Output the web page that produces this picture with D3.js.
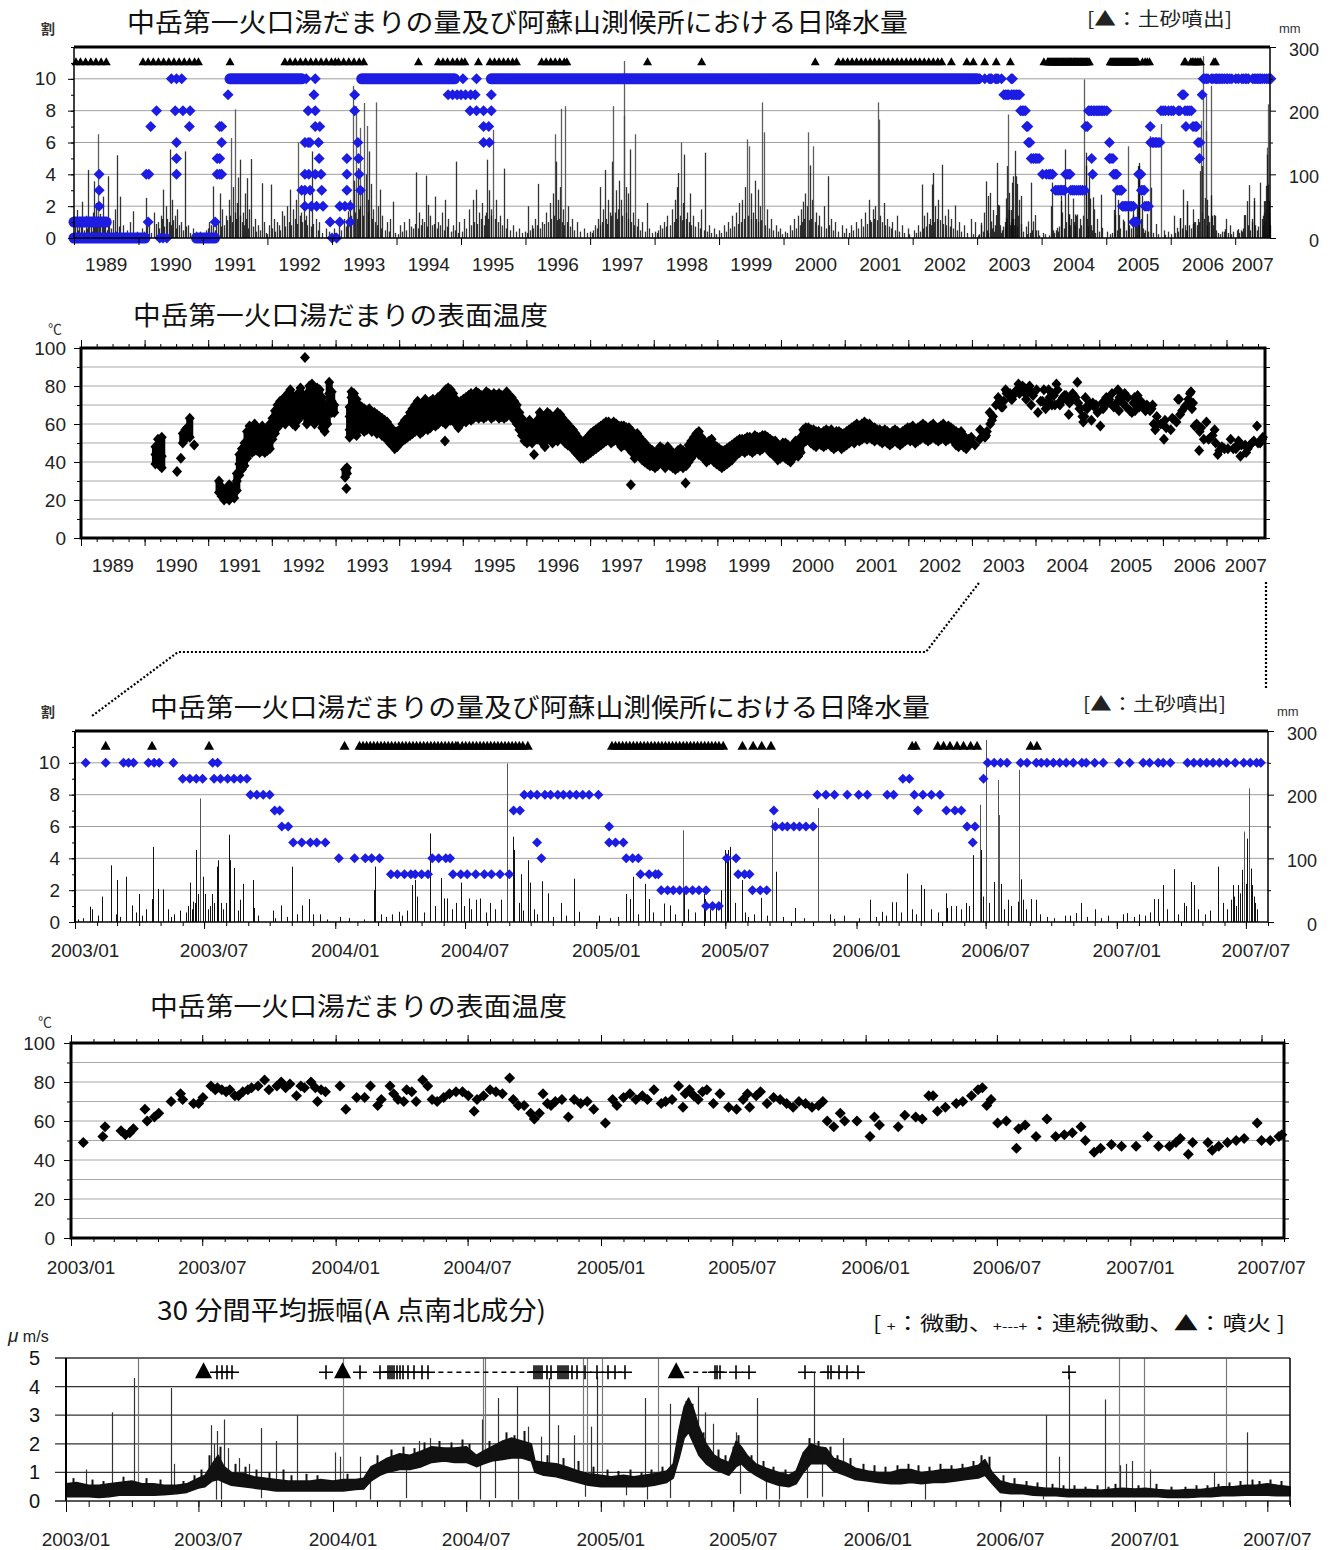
<!doctype html>
<html>

<head>
    <meta charset="utf-8">
    <title>中岳第一火口 湯だまり・表面温度・振幅</title>
    <script type="text/javascript" src="https://d3js.org/d3.v7.min.js"></script>
    <style type="text/css">
        html,
        body {
            margin: 0;
            padding: 0;
            background: #fff;
        }

        svg text {
            font-family: "Liberation Sans", Arial, sans-serif;
        }

        svg text.jp {
            font-family: "Noto Sans CJK JP", sans-serif;
        }
    </style>
</head>

<body>
    <svg id="chart" width="1329" height="1550"></svg>

    <script type="text/javascript">
        // ---------- tick labels ----------
        var levelTicks = [0, 2, 4, 6, 8, 10]
        var rainTicks = [0, 100, 200, 300]
        var tempTicks = [0, 20, 40, 60, 80, 100]
        var ampTicks = [0, 1, 2, 3, 4, 5]
        var yearLabels = ["1989", "1990", "1991", "1992", "1993", "1994", "1995", "1996", "1997", "1998",
            "1999", "2000", "2001", "2002", "2003", "2004", "2005", "2006", "2007"]

        // ---------- water level (割), 1989-2002, decimal years ----------
        // continuous stretches of the same level: [from, to, level]
        var levelRuns1989 = [
            [1989.0, 1989.5, 1], [1989.0, 1990.1, 0], [1990.9, 1991.18, 0],
            [1991.42, 1992.53, 10], [1993.46, 1994.9, 10], [1995.47, 2003.0, 10]
        ]
        var levelPoints1989 = [
            [1989.39, 2], [1989.39, 3], [1989.39, 4],
            [1990.12, 4], [1990.16, 4], [1990.15, 1], [1990.19, 7], [1990.28, 8],
            [1990.33, 0], [1990.38, 0], [1990.44, 0],
            [1990.51, 10], [1990.59, 10], [1990.67, 10], [1990.57, 8], [1990.69, 8], [1990.8, 8],
            [1990.59, 6], [1990.59, 5], [1990.59, 4], [1990.79, 7],
            [1991.19, 1], [1991.22, 4], [1991.22, 5], [1991.26, 4], [1991.26, 5], [1991.26, 7],
            [1991.29, 4], [1991.29, 6], [1991.29, 7], [1991.39, 9],
            [1992.53, 3], [1992.58, 2], [1992.58, 3], [1992.58, 4], [1992.58, 6], [1992.6, 10], [1992.63, 8],
            [1992.63, 6], [1992.64, 4], [1992.66, 3], [1992.68, 2], [1992.66, 6],
            [1992.72, 9], [1992.74, 10], [1992.74, 8], [1992.74, 7], [1992.74, 4], [1992.76, 2], [1992.79, 6],
            [1992.8, 5], [1992.81, 7], [1992.83, 4], [1992.84, 3], [1992.86, 2],
            [1992.97, 1], [1993.0, 0], [1993.07, 0], [1993.12, 1], [1993.12, 2], [1993.2, 2],
            [1993.23, 5], [1993.23, 4], [1993.23, 3], [1993.28, 1], [1993.28, 2],
            [1993.35, 9], [1993.35, 8], [1993.4, 6], [1993.41, 5], [1993.42, 4], [1993.44, 3],
            [1994.8, 9], [1994.87, 9], [1994.94, 9], [1995.0, 9], [1995.07, 9], [1995.15, 9], [1995.22, 9],
            [1995.03, 10], [1995.24, 10], [1995.47, 9],
            [1995.14, 8], [1995.24, 8], [1995.35, 8], [1995.47, 8],
            [1995.35, 7], [1995.43, 7], [1995.35, 6], [1995.44, 6]
        ]

        // ---------- water level (割), 2003-2007 ----------
        var levelPoints = [
            ["2003-01-16", 10], ["2003-02-13", 10], ["2003-03-10", 10], ["2003-03-17", 10], ["2003-03-24", 10],
            ["2003-04-14", 10], ["2003-04-22", 10], ["2003-04-29", 10], ["2003-05-19", 10],
            ["2003-06-01", 9], ["2003-06-11", 9], ["2003-06-20", 9], ["2003-06-29", 9], ["2003-07-13", 10], ["2003-07-20", 10],
            ["2003-07-15", 9], ["2003-07-24", 9], ["2003-08-03", 9], ["2003-08-12", 9], ["2003-08-21", 9], ["2003-08-30", 9],
            ["2003-09-04", 8], ["2003-09-13", 8], ["2003-09-22", 8], ["2003-10-01", 8], ["2003-10-08", 7], ["2003-10-15", 7],
            ["2003-10-18", 6], ["2003-10-27", 6],
            ["2003-11-03", 5], ["2003-11-15", 5], ["2003-11-27", 5], ["2003-12-06", 5], ["2003-12-18", 5],
            ["2004-01-06", 4], ["2004-01-28", 4], ["2004-02-12", 4], ["2004-02-21", 4], ["2004-03-03", 4],
            ["2004-03-19", 3], ["2004-03-28", 3], ["2004-04-07", 3], ["2004-04-16", 3], ["2004-04-22", 3], ["2004-05-01", 3], ["2004-05-10", 3],
            ["2004-05-16", 4], ["2004-05-25", 4], ["2004-06-04", 4], ["2004-06-10", 4],
            ["2004-06-14", 3], ["2004-06-25", 3], ["2004-07-04", 3], ["2004-07-16", 3], ["2004-07-28", 3], ["2004-08-07", 3],
            ["2004-08-19", 3], ["2004-09-01", 3],
            ["2004-09-07", 7], ["2004-09-16", 7], ["2004-09-22", 8], ["2004-10-01", 8], ["2004-10-10", 8], ["2004-10-10", 5], ["2004-10-16", 4],
            ["2004-10-21", 8], ["2004-10-29", 8], ["2004-11-08", 8], ["2004-11-16", 8], ["2004-11-25", 8], ["2004-12-04", 8],
            ["2004-12-13", 8], ["2004-12-22", 8], ["2005-01-04", 8],
            ["2005-01-19", 6], ["2005-01-19", 5], ["2005-01-28", 5], ["2005-02-08", 5], ["2005-02-12", 4], ["2005-02-21", 4], ["2005-03-01", 4],
            ["2005-03-04", 3], ["2005-03-16", 3], ["2005-03-25", 3], ["2005-03-29", 3],
            ["2005-04-02", 2], ["2005-04-11", 2], ["2005-04-19", 2], ["2005-04-28", 2], ["2005-05-07", 2], ["2005-05-16", 2],
            ["2005-05-25", 2], ["2005-06-04", 2], ["2005-06-04", 1], ["2005-06-13", 1], ["2005-06-22", 1],
            ["2005-07-03", 4], ["2005-07-16", 4], ["2005-07-19", 3], ["2005-07-28", 3], ["2005-08-04", 3],
            ["2005-08-08", 2], ["2005-08-19", 2], ["2005-08-28", 2],
            ["2005-09-07", 7], ["2005-09-09", 6], ["2005-09-19", 6], ["2005-09-26", 6], ["2005-10-05", 6], ["2005-10-13", 6],
            ["2005-10-22", 6], ["2005-11-01", 6],
            ["2005-11-07", 8], ["2005-11-19", 8], ["2005-12-01", 8], ["2005-12-19", 8], ["2006-01-04", 8], ["2006-01-16", 8],
            ["2006-02-13", 8], ["2006-02-22", 8],
            ["2006-03-07", 9], ["2006-03-16", 9], ["2006-03-23", 8], ["2006-03-28", 7], ["2006-04-04", 8], ["2006-04-16", 8], ["2006-04-28", 8],
            ["2006-05-07", 7], ["2006-05-19", 7], ["2006-05-28", 7], ["2006-06-05", 6], ["2006-06-16", 6], ["2006-06-13", 5], ["2006-06-28", 9],
            ["2006-07-04", 10], ["2006-07-13", 10], ["2006-07-22", 10], ["2006-07-31", 10], ["2006-08-19", 10], ["2006-08-28", 10],
            ["2006-09-10", 10], ["2006-09-17", 10], ["2006-09-25", 10], ["2006-10-04", 10], ["2006-10-13", 10], ["2006-10-22", 10],
            ["2006-11-01", 10], ["2006-11-13", 10], ["2006-11-19", 10], ["2006-12-01", 10], ["2006-12-13", 10], ["2007-01-04", 10],
            ["2007-01-19", 10], ["2007-02-07", 10], ["2007-02-16", 10], ["2007-02-28", 10], ["2007-03-07", 10], ["2007-03-17", 10],
            ["2007-04-10", 10], ["2007-04-19", 10], ["2007-04-28", 10], ["2007-05-07", 10], ["2007-05-16", 10], ["2007-05-25", 10],
            ["2007-06-04", 10], ["2007-06-16", 10], ["2007-06-28", 10], ["2007-07-07", 10], ["2007-07-16", 10], ["2007-07-22", 10]
        ]

        // ---------- 土砂噴出 (sediment ejection) ----------
        var sand1989 = [
            1989.03, 1989.1, 1989.18, 1989.26, 1989.34, 1989.42, 1989.5,
            1990.07, 1990.15, 1990.23, 1990.31, 1990.39, 1990.47, 1990.55, 1990.63, 1990.71, 1990.79, 1990.87, 1990.93,
            1991.42,
            1992.27, 1992.35, 1992.43, 1992.51, 1992.59, 1992.67, 1992.75, 1992.83, 1992.91, 1992.99, 1993.05,
            1993.1, 1993.18, 1993.26, 1993.34, 1993.42, 1993.49,
            1994.34,
            1994.65, 1994.72, 1994.79, 1994.87, 1994.94, 1995.01, 1995.06,
            1995.27,
            1995.45, 1995.52, 1995.59, 1995.66, 1995.73, 1995.8, 1995.86,
            1996.25, 1996.32, 1996.39, 1996.46, 1996.53, 1996.6, 1996.64,
            1997.89, 1998.73, 2000.49,
            2000.85, 2000.92, 2000.99, 2001.06, 2001.13, 2001.2, 2001.27, 2001.34, 2001.41, 2001.48, 2001.55, 2001.62,
            2001.69, 2001.76, 2001.83, 2001.9, 2001.97, 2002.04, 2002.11, 2002.18, 2002.25, 2002.32, 2002.39, 2002.45,
            2002.6, 2002.84, 2002.94
        ]
        var sandEjections = [
            "2003-02-13", "2003-04-19", "2003-07-08", "2004-01-14",
            "2004-02-04", "2004-02-09", "2004-02-14", "2004-02-19", "2004-02-24", "2004-02-29", "2004-03-05", "2004-03-10",
            "2004-03-15", "2004-03-20", "2004-03-25", "2004-03-30", "2004-04-04", "2004-04-09", "2004-04-14", "2004-04-19",
            "2004-04-24", "2004-04-29", "2004-05-04", "2004-05-09", "2004-05-14", "2004-05-19", "2004-05-24", "2004-05-29",
            "2004-06-03", "2004-06-08", "2004-06-13", "2004-06-18", "2004-06-21",
            "2004-06-27", "2004-07-02", "2004-07-07", "2004-07-12", "2004-07-17", "2004-07-22", "2004-07-27", "2004-08-01",
            "2004-08-06", "2004-08-11", "2004-08-16", "2004-08-21", "2004-08-26", "2004-08-31", "2004-09-05", "2004-09-10",
            "2004-09-15", "2004-09-20", "2004-09-27",
            "2005-01-23", "2005-01-28", "2005-02-02", "2005-02-07", "2005-02-12", "2005-02-17", "2005-02-22", "2005-02-27",
            "2005-03-04", "2005-03-09", "2005-03-14", "2005-03-19", "2005-03-24", "2005-03-29", "2005-04-03", "2005-04-08",
            "2005-04-13", "2005-04-18", "2005-04-23", "2005-04-28", "2005-05-03", "2005-05-08", "2005-05-13", "2005-05-18",
            "2005-05-23", "2005-05-28", "2005-06-02", "2005-06-07", "2005-06-12", "2005-06-17", "2005-06-22", "2005-06-28",
            "2005-07-25", "2005-08-09", "2005-08-21", "2005-09-03",
            "2006-03-20", "2006-03-25",
            "2006-04-25", "2006-05-03", "2006-05-12", "2006-05-22", "2006-05-31", "2006-06-10", "2006-06-19",
            "2006-09-02", "2006-09-11"
        ]

        // ---------- daily rainfall (mm) ----------
        var rain1989 = [
            [1989.02, 18], [1989.05, 44], [1989.08, 30], [1989.12, 57], [1989.15, 12], [1989.19, 35], [1989.22, 107], [1989.26, 25],
            [1989.29, 40], [1989.31, 89], [1989.34, 55], [1989.37, 163], [1989.41, 38], [1989.43, 22], [1989.45, 65], [1989.48, 30],
            [1989.53, 97], [1989.57, 15], [1989.6, 28], [1989.63, 45], [1989.67, 130], [1989.71, 65], [1989.76, 20], [1989.82, 12],
            [1989.87, 25], [1989.92, 42], [1989.97, 10],
            [1990.05, 15], [1990.12, 63], [1990.16, 20], [1990.24, 40], [1990.3, 25], [1990.35, 35], [1990.38, 76], [1990.42, 50],
            [1990.45, 30], [1990.49, 139], [1990.52, 60], [1990.56, 35], [1990.6, 45], [1990.66, 25], [1990.72, 136], [1990.77, 20],
            [1990.85, 15], [1990.95, 10],
            [1991.05, 12], [1991.1, 25], [1991.16, 81], [1991.2, 30], [1991.26, 70], [1991.3, 45], [1991.35, 35], [1991.4, 60],
            [1991.44, 157], [1991.47, 80], [1991.5, 202], [1991.53, 55], [1991.55, 95], [1991.58, 123], [1991.62, 40], [1991.65, 70],
            [1991.68, 94], [1991.71, 45], [1991.74, 124], [1991.8, 30], [1991.86, 20], [1991.91, 86], [1991.95, 25],
            [1992.02, 20], [1992.05, 84], [1992.1, 30], [1992.15, 25], [1992.22, 42], [1992.25, 35], [1992.3, 50], [1992.35, 76],
            [1992.4, 45], [1992.44, 60], [1992.48, 150], [1992.52, 40], [1992.56, 70], [1992.6, 35], [1992.65, 55], [1992.69, 136],
            [1992.75, 30], [1992.8, 25], [1992.9, 15],
            [1993.03, 15], [1993.1, 20], [1993.18, 30], [1993.25, 42], [1993.28, 60], [1993.32, 239], [1993.34, 90], [1993.37, 207],
            [1993.4, 110], [1993.43, 173], [1993.46, 80], [1993.5, 212], [1993.52, 100], [1993.54, 176], [1993.56, 60], [1993.58, 136],
            [1993.6, 85], [1993.64, 45], [1993.68, 213], [1993.71, 50], [1993.74, 76], [1993.78, 35], [1993.85, 25], [1993.9, 30],
            [1993.95, 57],
            [1994.05, 20], [1994.12, 25], [1994.2, 30], [1994.25, 15], [1994.3, 103], [1994.35, 40], [1994.4, 30], [1994.46, 98],
            [1994.49, 52], [1994.52, 35], [1994.55, 20], [1994.6, 65], [1994.65, 25], [1994.7, 40], [1994.75, 60], [1994.8, 30],
            [1994.87, 20], [1994.93, 120], [1994.97, 25],
            [1995.05, 30], [1995.12, 45], [1995.18, 60], [1995.23, 76], [1995.28, 40], [1995.33, 55], [1995.37, 35], [1995.4, 123],
            [1995.44, 75], [1995.47, 45], [1995.5, 170], [1995.55, 60], [1995.6, 35], [1995.67, 109], [1995.72, 30], [1995.8, 20],
            [1995.9, 15],
            [1996.0, 10], [1996.04, 50], [1996.1, 20], [1996.15, 30], [1996.2, 85], [1996.25, 25], [1996.32, 40], [1996.38, 55],
            [1996.42, 70], [1996.46, 163], [1996.47, 120], [1996.5, 60], [1996.53, 80], [1996.55, 203], [1996.58, 45], [1996.61, 207],
            [1996.66, 50], [1996.72, 30], [1996.8, 25], [1996.9, 15],
            [1997.0, 10], [1997.08, 20], [1997.12, 30], [1997.16, 80], [1997.2, 45], [1997.23, 107], [1997.28, 60], [1997.31, 40],
            [1997.34, 120], [1997.36, 207], [1997.4, 75], [1997.45, 90], [1997.48, 60], [1997.52, 192], [1997.53, 278], [1997.56, 80],
            [1997.59, 70], [1997.62, 139], [1997.66, 40], [1997.7, 163], [1997.74, 30], [1997.8, 25], [1997.88, 55], [1997.92, 15],
            [1998.0, 10], [1998.08, 20], [1998.15, 25], [1998.2, 35], [1998.27, 45], [1998.32, 60], [1998.35, 80], [1998.37, 102],
            [1998.41, 150], [1998.44, 55], [1998.46, 131], [1998.5, 40], [1998.55, 70], [1998.6, 35], [1998.67, 25], [1998.72, 45],
            [1998.78, 134], [1998.85, 20], [1998.92, 15],
            [1999.0, 12], [1999.07, 20], [1999.14, 25], [1999.2, 35], [1999.26, 40], [1999.31, 55], [1999.36, 60], [1999.4, 80],
            [1999.43, 155], [1999.47, 144], [1999.5, 70], [1999.55, 90], [1999.6, 76], [1999.63, 50], [1999.67, 213], [1999.7, 166],
            [1999.74, 45], [1999.8, 30], [1999.88, 20], [1999.95, 15],
            [2000.02, 10], [2000.1, 20], [2000.16, 30], [2000.22, 35], [2000.27, 45], [2000.3, 57], [2000.33, 70], [2000.36, 50],
            [2000.38, 166], [2000.41, 114], [2000.44, 60], [2000.46, 144], [2000.5, 40], [2000.55, 35], [2000.62, 50], [2000.68, 97],
            [2000.74, 30], [2000.8, 25], [2000.9, 20], [2000.97, 15],
            [2001.05, 20], [2001.12, 25], [2001.2, 30], [2001.26, 40], [2001.32, 60], [2001.38, 45], [2001.42, 50], [2001.47, 213],
            [2001.48, 186], [2001.5, 35], [2001.55, 55], [2001.6, 30], [2001.68, 25], [2001.75, 35], [2001.83, 20], [2001.92, 15],
            [2002.02, 12], [2002.08, 20], [2002.14, 84], [2002.18, 35], [2002.22, 40], [2002.27, 30], [2002.3, 84], [2002.31, 102],
            [2002.35, 50], [2002.4, 60], [2002.45, 115], [2002.5, 35], [2002.55, 45], [2002.6, 30], [2002.66, 51], [2002.72, 25],
            [2002.8, 20], [2002.9, 30], [2002.96, 25],
            // smaller daily totals
            [1989.01, 8], [1989.06, 12], [1989.11, 20], [1989.14, 6], [1989.2, 15], [1989.24, 28], [1989.28, 10], [1989.33, 22],
            [1989.36, 30], [1989.39, 18], [1989.47, 25], [1989.51, 12], [1989.55, 20], [1989.65, 10], [1989.7, 18], [1989.79, 8], [1989.9, 6],
            [1990.02, 6], [1990.09, 10], [1990.14, 18], [1990.19, 8], [1990.27, 22], [1990.32, 15], [1990.37, 30], [1990.4, 18],
            [1990.47, 25], [1990.5, 20], [1990.54, 28], [1990.58, 15], [1990.63, 20], [1990.69, 12], [1990.74, 18], [1990.8, 8], [1990.9, 10],
            [1991.02, 8], [1991.08, 15], [1991.13, 20], [1991.18, 12], [1991.23, 25], [1991.28, 18], [1991.33, 20], [1991.37, 28],
            [1991.42, 35], [1991.45, 25], [1991.49, 40], [1991.52, 30], [1991.57, 35], [1991.6, 25], [1991.63, 20], [1991.67, 30],
            [1991.7, 15], [1991.77, 18], [1991.83, 10], [1991.89, 12], [1991.98, 8],
            [1992.0, 6], [1992.07, 15], [1992.12, 10], [1992.18, 20], [1992.2, 12], [1992.27, 18], [1992.33, 25], [1992.37, 20],
            [1992.42, 30], [1992.46, 22], [1992.5, 35], [1992.54, 25], [1992.58, 28], [1992.62, 20], [1992.67, 18], [1992.71, 22],
            [1992.78, 12], [1992.85, 8], [1992.95, 10],
            [1993.05, 8], [1993.14, 12], [1993.21, 18], [1993.23, 25], [1993.3, 35], [1993.36, 40], [1993.38, 30], [1993.42, 45],
            [1993.44, 50], [1993.48, 35], [1993.55, 40], [1993.62, 30], [1993.66, 25], [1993.7, 20], [1993.76, 15], [1993.82, 12],
            [1993.88, 10], [1993.98, 8],
            [1994.02, 6], [1994.08, 10], [1994.15, 12], [1994.22, 18], [1994.28, 22], [1994.33, 15], [1994.38, 20], [1994.43, 25],
            [1994.47, 18], [1994.58, 22], [1994.62, 15], [1994.68, 20], [1994.73, 12], [1994.78, 18], [1994.84, 10], [1994.9, 12], [1994.95, 8],
            [1995.02, 10], [1995.08, 15], [1995.15, 20], [1995.2, 25], [1995.25, 22], [1995.31, 30], [1995.35, 20], [1995.39, 40],
            [1995.42, 30], [1995.46, 35], [1995.52, 30], [1995.58, 25], [1995.63, 20], [1995.7, 15], [1995.76, 12], [1995.85, 10], [1995.95, 8],
            [1996.03, 8], [1996.07, 12], [1996.12, 15], [1996.18, 20], [1996.22, 15], [1996.28, 22], [1996.35, 25], [1996.4, 30],
            [1996.44, 35], [1996.48, 28], [1996.52, 30], [1996.56, 25], [1996.6, 20], [1996.64, 25], [1996.69, 18], [1996.75, 12],
            [1996.85, 10], [1996.95, 8],
            [1997.03, 8], [1997.05, 12], [1997.1, 15], [1997.15, 20], [1997.18, 25], [1997.25, 30], [1997.26, 22], [1997.33, 35],
            [1997.38, 40], [1997.42, 30], [1997.44, 45], [1997.5, 35], [1997.55, 40], [1997.58, 30], [1997.64, 25], [1997.68, 20],
            [1997.72, 18], [1997.77, 12], [1997.85, 10], [1997.96, 8],
            [1998.03, 8], [1998.05, 12], [1998.12, 15], [1998.18, 18], [1998.24, 20], [1998.3, 25], [1998.33, 30], [1998.39, 35],
            [1998.43, 28], [1998.48, 30], [1998.53, 25], [1998.57, 20], [1998.62, 18], [1998.7, 15], [1998.76, 12], [1998.81, 10],
            [1998.88, 8], [1998.96, 6],
            [1999.03, 8], [1999.1, 10], [1999.17, 15], [1999.23, 18], [1999.29, 22], [1999.34, 25], [1999.38, 30], [1999.45, 35],
            [1999.49, 30], [1999.52, 40], [1999.57, 30], [1999.61, 25], [1999.65, 28], [1999.72, 20], [1999.77, 15], [1999.84, 12],
            [1999.91, 10], [1999.98, 6],
            [2000.05, 8], [2000.13, 12], [2000.19, 15], [2000.25, 20], [2000.29, 25], [2000.32, 30], [2000.4, 28], [2000.42, 30],
            [2000.48, 25], [2000.53, 20], [2000.58, 18], [2000.65, 15], [2000.7, 20], [2000.77, 12], [2000.85, 10], [2000.93, 8],
            [2001.02, 8], [2001.08, 12], [2001.15, 15], [2001.23, 18], [2001.29, 22], [2001.34, 28], [2001.36, 25], [2001.4, 30],
            [2001.45, 28], [2001.52, 25], [2001.57, 20], [2001.63, 18], [2001.66, 15], [2001.72, 12], [2001.79, 10], [2001.87, 8], [2001.95, 6],
            [2002.05, 8], [2002.11, 10], [2002.16, 15], [2002.2, 18], [2002.25, 22], [2002.29, 20], [2002.33, 25], [2002.38, 30],
            [2002.42, 28], [2002.47, 22], [2002.52, 20], [2002.58, 18], [2002.63, 15], [2002.69, 12], [2002.75, 10], [2002.85, 8], [2002.93, 6]
        ]
        var rain = [
            ["2003-01-05", 4], ["2003-01-12", 6], ["2003-01-22", 24], ["2003-01-25", 20], ["2003-02-02", 10], ["2003-02-08", 40],
            ["2003-02-21", 89], ["2003-02-28", 12], ["2003-03-01", 66], ["2003-03-05", 8], ["2003-03-13", 71], ["2003-03-22", 26],
            ["2003-03-28", 15], ["2003-04-01", 44], ["2003-04-05", 10], ["2003-04-10", 20], ["2003-04-19", 36], ["2003-04-21", 118],
            ["2003-04-28", 52], ["2003-05-05", 51], ["2003-05-12", 20], ["2003-05-15", 8], ["2003-05-20", 12], ["2003-05-28", 18],
            ["2003-06-05", 15], ["2003-06-08", 25], ["2003-06-11", 62], ["2003-06-14", 20], ["2003-06-16", 32], ["2003-06-18", 30],
            ["2003-06-20", 113], ["2003-06-22", 44], ["2003-06-25", 194], ["2003-06-29", 71], ["2003-07-02", 44], ["2003-07-06", 20],
            ["2003-07-09", 25], ["2003-07-12", 44], ["2003-07-15", 30], ["2003-07-19", 87], ["2003-07-21", 97], ["2003-07-25", 30],
            ["2003-07-28", 20], ["2003-08-01", 30], ["2003-08-05", 137], ["2003-08-07", 97], ["2003-08-12", 85], ["2003-08-17", 18],
            ["2003-08-20", 35], ["2003-08-25", 60], ["2003-09-07", 66], ["2003-09-09", 22], ["2003-09-15", 10], ["2003-10-05", 18],
            ["2003-10-09", 6], ["2003-10-17", 26], ["2003-10-25", 8], ["2003-11-02", 87], ["2003-11-08", 12], ["2003-11-16", 26],
            ["2003-11-25", 36], ["2003-12-01", 12], ["2003-12-10", 12], ["2003-12-20", 4],
            ["2004-01-08", 8], ["2004-01-20", 6], ["2004-02-10", 4], ["2004-02-24", 50], ["2004-02-26", 87], ["2004-03-05", 12],
            ["2004-03-12", 8], ["2004-03-20", 12], ["2004-03-30", 16], ["2004-04-03", 10], ["2004-04-10", 18], ["2004-04-17", 58],
            ["2004-04-22", 66], ["2004-04-25", 40], ["2004-05-05", 15], ["2004-05-13", 139], ["2004-05-20", 25], ["2004-05-28", 69],
            ["2004-06-02", 37], ["2004-06-06", 37], ["2004-06-12", 20], ["2004-06-18", 30], ["2004-06-25", 62], ["2004-06-30", 25],
            ["2004-07-06", 37], ["2004-07-10", 20], ["2004-07-16", 35], ["2004-07-22", 37], ["2004-07-30", 15], ["2004-08-05", 30],
            ["2004-08-12", 20], ["2004-08-20", 35], ["2004-08-29", 249], ["2004-09-06", 134], ["2004-09-08", 113], ["2004-09-14", 30],
            ["2004-09-18", 75], ["2004-09-20", 18], ["2004-09-27", 97], ["2004-09-30", 62], ["2004-10-05", 20], ["2004-10-10", 12],
            ["2004-10-17", 64], ["2004-10-25", 45], ["2004-11-01", 8], ["2004-11-12", 30], ["2004-11-20", 10], ["2004-12-01", 68],
            ["2004-12-08", 16],
            ["2005-01-05", 10], ["2005-01-20", 6], ["2005-02-01", 8], ["2005-02-11", 44], ["2005-02-17", 36], ["2005-02-22", 71],
            ["2005-03-01", 12], ["2005-03-10", 60], ["2005-03-16", 36], ["2005-03-22", 15], ["2005-04-06", 29], ["2005-04-14", 26],
            ["2005-04-22", 12], ["2005-05-02", 144], ["2005-05-04", 50], ["2005-05-10", 20], ["2005-05-20", 15], ["2005-06-01", 44],
            ["2005-06-03", 36], ["2005-06-10", 20], ["2005-06-18", 25], ["2005-06-25", 50], ["2005-06-30", 113], ["2005-07-04", 95],
            ["2005-07-05", 113], ["2005-07-08", 118], ["2005-07-15", 30], ["2005-07-25", 66], ["2005-07-29", 15], ["2005-08-02", 8],
            ["2005-08-10", 12], ["2005-08-20", 38], ["2005-08-28", 10], ["2005-09-04", 160], ["2005-09-10", 79], ["2005-09-20", 8],
            ["2005-10-07", 22], ["2005-10-20", 6], ["2005-11-08", 179], ["2005-11-25", 12], ["2005-12-01", 5], ["2005-12-15", 10],
            ["2006-01-05", 6], ["2006-01-20", 35], ["2006-01-28", 8], ["2006-02-05", 16], ["2006-02-12", 10], ["2006-02-20", 31],
            ["2006-02-25", 31], ["2006-03-05", 15], ["2006-03-13", 76], ["2006-03-20", 20], ["2006-03-26", 12], ["2006-04-02", 58],
            ["2006-04-05", 52], ["2006-04-15", 20], ["2006-04-25", 15], ["2006-05-06", 45], ["2006-05-08", 22], ["2006-05-14", 25],
            ["2006-05-20", 25], ["2006-05-28", 20], ["2006-06-03", 30], ["2006-06-08", 25], ["2006-06-13", 105], ["2006-06-23", 184],
            ["2006-06-25", 113], ["2006-06-28", 40], ["2006-07-02", 286], ["2006-07-06", 30], ["2006-07-13", 63], ["2006-07-19", 223],
            ["2006-07-20", 168], ["2006-07-23", 60], ["2006-07-27", 20], ["2006-08-01", 35], ["2006-08-06", 25], ["2006-08-15", 32],
            ["2006-08-17", 239], ["2006-08-19", 67], ["2006-08-22", 35], ["2006-08-26", 20], ["2006-09-02", 36], ["2006-09-10", 35],
            ["2006-09-15", 12], ["2006-09-25", 8], ["2006-10-05", 6], ["2006-10-20", 10], ["2006-10-28", 10], ["2006-11-05", 14],
            ["2006-11-12", 30], ["2006-11-20", 8], ["2006-12-01", 20], ["2006-12-10", 6], ["2006-12-20", 10],
            ["2007-01-10", 12], ["2007-01-15", 14], ["2007-01-25", 8], ["2007-02-01", 12], ["2007-02-10", 10], ["2007-02-16", 15],
            ["2007-02-22", 36], ["2007-02-28", 36], ["2007-03-07", 58], ["2007-03-12", 20], ["2007-03-22", 83], ["2007-03-28", 12],
            ["2007-04-05", 30], ["2007-04-08", 25], ["2007-04-15", 63], ["2007-04-19", 58], ["2007-04-25", 20], ["2007-05-05", 12],
            ["2007-05-12", 18], ["2007-05-23", 87], ["2007-05-30", 30], ["2007-06-05", 20], ["2007-06-10", 35], ["2007-06-13", 58],
            ["2007-06-14", 40], ["2007-06-17", 25], ["2007-06-20", 58], ["2007-06-23", 45], ["2007-06-26", 82], ["2007-06-29", 142],
            ["2007-07-01", 60], ["2007-07-02", 131], ["2007-07-05", 210], ["2007-07-08", 84], ["2007-07-10", 58], ["2007-07-12", 40],
            ["2007-07-14", 30], ["2007-07-17", 20]
        ]

        // ---------- surface temperature (℃) ----------
        // 1989-2002: [decimal year, readings around that date]
        var temp1989 = [
            [1990.17, [39, 44, 48]], [1990.21, [41, 52]], [1990.24, [38, 50]], [1990.27, [37, 43, 53]],
            [1990.51, [35]], [1990.57, [42]], [1990.6, [50, 55]], [1990.64, [52, 57]], [1990.67, [58]], [1990.71, [53, 63]], [1990.78, [49]],
            [1991.17, [24, 30]], [1991.21, [22, 27]], [1991.25, [20, 24]], [1991.29, [21, 25]], [1991.33, [20, 24, 28]], [1991.37, [22, 27]],
            [1991.41, [21, 26]], [1991.45, [25, 30, 34]], [1991.49, [33, 39, 44]], [1991.53, [36, 43, 47]], [1991.57, [38, 45, 50]],
            [1991.61, [42, 50, 56]], [1991.65, [46, 53, 59]], [1991.69, [45, 52, 58]], [1991.73, [46, 55, 60]], [1991.77, [46, 52, 58]],
            [1991.81, [45, 50, 57]], [1991.85, [46, 53, 59]], [1991.89, [45, 51, 57]], [1991.93, [46, 52, 56]], [1991.97, [47, 53, 60]],
            [1992.01, [52, 58, 63]], [1992.05, [55, 62, 67]], [1992.09, [58, 64, 70]], [1992.13, [60, 67, 72]], [1992.17, [61, 68, 73]],
            [1992.21, [60, 66, 74]], [1992.25, [62, 70, 76]], [1992.29, [63, 71, 78]], [1992.33, [60, 68, 75]], [1992.37, [59, 66, 73]],
            [1992.41, [62, 70, 76]], [1992.45, [64, 72, 79]], [1992.49, [65, 73]], [1992.52, [95]], [1992.55, [60, 68, 76]],
            [1992.59, [62, 70, 80]], [1992.63, [64, 73, 81]], [1992.67, [60, 70, 78]], [1992.71, [62, 71, 79]], [1992.75, [65, 73, 78]],
            [1992.79, [58, 66, 74]], [1992.83, [56, 64, 70]], [1992.87, [60, 68]], [1992.9, [70, 76, 82]], [1992.94, [66, 72, 77]],
            [1992.98, [66, 70]],
            [1993.15, [32, 36]], [1993.17, [26]], [1993.18, [34, 37]], [1993.22, [53, 57, 64, 69]], [1993.25, [58, 66, 74, 77]],
            [1993.29, [55, 62, 70, 76]],
            [1993.33, [54, 60, 68, 73]], [1993.37, [57, 63, 70]], [1993.41, [58, 64, 69]], [1993.45, [56, 62, 68]], [1993.49, [57, 63, 67]],
            [1993.53, [58, 64, 68]], [1993.57, [56, 62, 66]], [1993.61, [57, 62, 66]], [1993.65, [55, 60, 65]], [1993.69, [56, 61, 64]],
            [1993.73, [54, 59, 63]], [1993.77, [53, 58, 62]], [1993.81, [52, 57, 61]], [1993.85, [50, 55, 59]], [1993.89, [49, 54, 57]],
            [1993.93, [47, 52, 56]], [1993.97, [48, 53, 56]],
            [1994.01, [50, 54, 57]], [1994.05, [51, 56, 60]], [1994.09, [52, 57, 62]], [1994.13, [53, 58, 63]], [1994.17, [54, 60, 66]],
            [1994.21, [55, 61, 68]], [1994.25, [56, 62, 70]], [1994.29, [58, 64, 72]], [1994.33, [55, 63, 70]], [1994.37, [56, 63, 70]],
            [1994.41, [58, 66, 73]], [1994.45, [57, 64, 70]], [1994.49, [58, 65, 72]], [1994.53, [60, 67, 73]], [1994.57, [59, 66, 72]],
            [1994.61, [60, 68, 74]], [1994.65, [62, 69, 75]], [1994.69, [61, 69, 76]], [1994.72, [51]], [1994.73, [60, 70, 78]],
            [1994.77, [63, 72, 79]],
            [1994.81, [62, 70, 78]], [1994.85, [63, 70, 76]], [1994.89, [60, 67, 73]], [1994.93, [58, 64, 71]], [1994.97, [60, 66, 72]],
            [1995.01, [62, 68, 73]], [1995.05, [61, 67, 74]], [1995.09, [63, 69, 75]], [1995.13, [62, 70, 76]], [1995.17, [63, 70, 75]],
            [1995.21, [64, 71, 77]], [1995.25, [63, 70, 76]], [1995.29, [64, 71, 75]], [1995.33, [63, 69, 74]], [1995.37, [64, 71, 77]],
            [1995.41, [65, 72, 76]], [1995.45, [63, 70, 75]], [1995.49, [64, 71, 76]], [1995.53, [65, 72, 75]], [1995.57, [63, 70, 76]],
            [1995.61, [64, 71, 75]], [1995.65, [63, 70, 74]], [1995.69, [64, 71, 77]], [1995.73, [65, 72, 75]], [1995.77, [64, 70, 74]],
            [1995.81, [62, 68, 72]], [1995.85, [60, 65, 70]], [1995.89, [57, 62, 66]], [1995.93, [54, 59, 63]], [1995.97, [51, 55, 59]],
            [1996.01, [50, 54, 58]], [1996.05, [51, 56, 62]], [1996.09, [50, 55, 60]], [1996.12, [44]], [1996.13, [52, 57]],
            [1996.17, [52, 57, 62]],
            [1996.21, [54, 60, 66]], [1996.25, [50, 58, 64]], [1996.29, [48, 55, 62]], [1996.33, [52, 59, 66]], [1996.37, [53, 60, 65]],
            [1996.41, [50, 57, 63]], [1996.45, [52, 58, 64]], [1996.49, [51, 59, 66]], [1996.53, [53, 60, 65]], [1996.57, [52, 58, 63]],
            [1996.61, [50, 56, 61]], [1996.65, [49, 54, 60]], [1996.69, [48, 53, 58]], [1996.73, [47, 52, 57]], [1996.77, [45, 50, 55]],
            [1996.81, [44, 48, 53]], [1996.85, [42, 47, 51]], [1996.89, [42, 46, 50]], [1996.93, [43, 47, 52]], [1996.97, [44, 49, 53]],
            [1997.01, [45, 50, 55]], [1997.05, [46, 51, 56]], [1997.09, [47, 52, 57]], [1997.13, [48, 54, 58]], [1997.17, [49, 55, 59]],
            [1997.21, [50, 56, 60]], [1997.25, [51, 57, 61]], [1997.29, [52, 57, 61]], [1997.33, [50, 56, 60]], [1997.37, [51, 57, 61]],
            [1997.41, [52, 57, 60]], [1997.45, [50, 55, 59]], [1997.49, [48, 54, 59]], [1997.53, [49, 55, 59]], [1997.57, [50, 55, 58]],
            [1997.61, [47, 53, 58]], [1997.64, [28]], [1997.66, [45, 51, 56]], [1997.7, [42, 48, 54]], [1997.74, [44, 50, 55]],
            [1997.78, [43, 48, 53]], [1997.82, [41, 46, 51]], [1997.86, [40, 45, 50]], [1997.9, [39, 44, 48]], [1997.94, [38, 42, 47]],
            [1997.98, [38, 41, 46]],
            [1998.02, [37, 41, 45]], [1998.06, [38, 42, 46]], [1998.1, [40, 44, 48]], [1998.14, [39, 43, 47]], [1998.18, [37, 41, 46]],
            [1998.22, [39, 44, 48]], [1998.26, [38, 42, 46]], [1998.3, [37, 41, 45]], [1998.34, [36, 40, 44]], [1998.38, [37, 41, 46]],
            [1998.42, [38, 42, 47]], [1998.46, [37, 42, 46]], [1998.5, [29]], [1998.51, [38, 43]], [1998.55, [40, 45, 49]],
            [1998.59, [42, 46, 51]],
            [1998.63, [44, 49, 53]], [1998.67, [46, 50, 55]], [1998.71, [44, 50, 56]], [1998.75, [43, 48, 53]], [1998.79, [42, 46, 51]],
            [1998.83, [40, 45, 50]], [1998.87, [41, 46, 51]], [1998.91, [42, 47, 52]], [1998.95, [40, 45, 49]], [1998.99, [39, 43, 48]],
            [1999.03, [38, 42, 47]], [1999.07, [37, 41, 46]], [1999.11, [38, 42, 46]], [1999.15, [39, 43, 47]], [1999.19, [40, 44, 48]],
            [1999.23, [41, 45, 49]], [1999.27, [43, 47, 50]], [1999.31, [44, 48, 51]], [1999.35, [45, 49, 52]], [1999.39, [46, 49, 52]],
            [1999.43, [45, 49, 52]], [1999.47, [46, 50, 53]], [1999.51, [46, 50, 53]], [1999.55, [45, 49, 52]], [1999.59, [46, 50, 54]],
            [1999.63, [47, 50, 53]], [1999.67, [46, 50, 53]], [1999.71, [47, 51, 54]], [1999.75, [48, 51, 54]], [1999.79, [47, 50, 53]],
            [1999.83, [45, 49, 52]], [1999.87, [44, 48, 51]], [1999.91, [43, 47, 51]], [1999.95, [41, 45, 48]], [1999.99, [42, 46]],
            [2000.03, [43, 47, 50]], [2000.07, [42, 46, 50]], [2000.11, [41, 45, 49]], [2000.15, [40, 44, 48]], [2000.19, [42, 46, 49]],
            [2000.23, [44, 48, 51]], [2000.27, [43, 46, 50]], [2000.31, [45, 49, 53]], [2000.35, [50, 54, 57]], [2000.39, [51, 55, 58]],
            [2000.43, [52, 56, 58]], [2000.47, [50, 54, 57]], [2000.51, [49, 53, 57]], [2000.55, [48, 52, 56]], [2000.59, [50, 53, 56]],
            [2000.63, [49, 52, 55]], [2000.67, [48, 52, 56]], [2000.71, [49, 53, 57]], [2000.75, [50, 53, 56]], [2000.79, [48, 52, 57]],
            [2000.83, [47, 51, 55]], [2000.87, [48, 52, 56]], [2000.91, [49, 53, 56]], [2000.95, [47, 51, 55]], [2000.99, [48, 52, 55]],
            [2001.03, [49, 53, 56]], [2001.07, [50, 54, 57]], [2001.11, [51, 55, 58]], [2001.15, [50, 55, 59]], [2001.19, [52, 56, 60]],
            [2001.23, [51, 55, 59]], [2001.27, [52, 56, 60]], [2001.31, [53, 57, 61]], [2001.35, [52, 56, 60]], [2001.39, [53, 57, 60]],
            [2001.43, [52, 55, 58]], [2001.47, [51, 55, 58]], [2001.51, [52, 55, 57]], [2001.55, [51, 54, 57]], [2001.59, [50, 53, 56]],
            [2001.63, [51, 54, 57]], [2001.67, [50, 53, 56]], [2001.71, [49, 52, 55]], [2001.75, [50, 53, 56]], [2001.79, [51, 54, 57]],
            [2001.83, [50, 53, 56]], [2001.87, [49, 52, 55]], [2001.91, [50, 53, 56]], [2001.95, [51, 54, 57]], [2001.99, [52, 55, 58]],
            [2002.03, [51, 55, 58]], [2002.07, [52, 55, 59]], [2002.11, [50, 54, 57]], [2002.15, [51, 55, 58]], [2002.19, [52, 56, 59]],
            [2002.23, [53, 57, 60]], [2002.27, [52, 56, 59]], [2002.31, [51, 55, 58]], [2002.35, [52, 56, 59]], [2002.39, [53, 57, 60]],
            [2002.43, [52, 56, 58]], [2002.47, [51, 55, 58]], [2002.51, [52, 56, 59]], [2002.55, [53, 57, 60]], [2002.59, [51, 55, 58]],
            [2002.63, [52, 56, 59]], [2002.67, [53, 56, 58]], [2002.71, [51, 54, 57]], [2002.75, [49, 53, 56]], [2002.79, [48, 52, 55]],
            [2002.83, [50, 53, 56]], [2002.87, [48, 51, 54]], [2002.91, [47, 50]], [2002.95, [49, 52]], [2002.99, [50, 53]]
        ]
        var temp = [
            ["2003-01-18", 49], ["2003-02-14", 52], ["2003-02-17", 57], ["2003-03-11", 55], ["2003-03-17", 53], ["2003-03-23", 54],
            ["2003-03-28", 56], ["2003-04-13", 66], ["2003-04-16", 60], ["2003-04-26", 62], ["2003-05-02", 64], ["2003-05-19", 70],
            ["2003-06-01", 74], ["2003-06-04", 71], ["2003-06-19", 69], ["2003-06-26", 69], ["2003-07-02", 72], ["2003-07-13", 78],
            ["2003-07-19", 76], ["2003-07-22", 77], ["2003-07-28", 76], ["2003-08-03", 75], ["2003-08-08", 76], ["2003-08-15", 73],
            ["2003-08-20", 73], ["2003-08-26", 75], ["2003-09-02", 76], ["2003-09-07", 77], ["2003-09-16", 78], ["2003-09-25", 81],
            ["2003-10-01", 76], ["2003-10-12", 78], ["2003-10-18", 80], ["2003-10-24", 77], ["2003-10-30", 79], ["2003-11-08", 73],
            ["2003-11-14", 78], ["2003-11-19", 77], ["2003-11-28", 80], ["2003-12-04", 77], ["2003-12-07", 70], ["2003-12-12", 76],
            ["2003-12-18", 75],
            ["2004-01-07", 78], ["2004-01-15", 66], ["2004-01-30", 72], ["2004-02-10", 72], ["2004-02-18", 78], ["2004-02-28", 68],
            ["2004-03-04", 71], ["2004-03-16", 78], ["2004-03-21", 74], ["2004-03-27", 71], ["2004-04-04", 70], ["2004-04-08", 76],
            ["2004-04-15", 75], ["2004-04-21", 70], ["2004-04-30", 81], ["2004-05-07", 78], ["2004-05-13", 71], ["2004-05-20", 70],
            ["2004-05-29", 72], ["2004-06-06", 74], ["2004-06-15", 75], ["2004-06-24", 75], ["2004-07-02", 73], ["2004-07-10", 65],
            ["2004-07-14", 71], ["2004-07-23", 73], ["2004-08-01", 76], ["2004-08-09", 75], ["2004-08-18", 74], ["2004-08-28", 82],
            ["2004-09-02", 71], ["2004-09-09", 68], ["2004-09-17", 68], ["2004-09-26", 64], ["2004-10-01", 61], ["2004-10-08", 64],
            ["2004-10-13", 74], ["2004-10-19", 69], ["2004-10-24", 68], ["2004-10-30", 70], ["2004-11-08", 71], ["2004-11-17", 62],
            ["2004-11-25", 71], ["2004-12-04", 69], ["2004-12-13", 70], ["2004-12-22", 66],
            ["2005-01-07", 59], ["2005-01-17", 71], ["2005-01-23", 68], ["2005-02-01", 72], ["2005-02-10", 74], ["2005-02-18", 71],
            ["2005-02-27", 73], ["2005-03-06", 71], ["2005-03-15", 76], ["2005-03-25", 69], ["2005-03-31", 70], ["2005-04-09", 71],
            ["2005-04-18", 78], ["2005-04-24", 67], ["2005-04-27", 74], ["2005-05-03", 76], ["2005-05-09", 73], ["2005-05-15", 71],
            ["2005-05-21", 75], ["2005-05-27", 76], ["2005-06-05", 69], ["2005-06-14", 74], ["2005-06-26", 67], ["2005-07-07", 66],
            ["2005-07-16", 71], ["2005-07-22", 74], ["2005-07-25", 67], ["2005-08-03", 73], ["2005-08-09", 75], ["2005-08-18", 69],
            ["2005-08-27", 72], ["2005-09-05", 71], ["2005-09-14", 69], ["2005-09-23", 67], ["2005-10-01", 70], ["2005-10-10", 69],
            ["2005-10-19", 67], ["2005-10-28", 68], ["2005-11-03", 70], ["2005-11-09", 60], ["2005-11-18", 57], ["2005-11-27", 64],
            ["2005-12-03", 60], ["2005-12-20", 60],
            ["2006-01-07", 52], ["2006-01-13", 62], ["2006-01-20", 58], ["2006-02-15", 57], ["2006-02-24", 63], ["2006-03-11", 62],
            ["2006-03-20", 61], ["2006-03-29", 73], ["2006-04-04", 73], ["2006-04-10", 65], ["2006-04-21", 67], ["2006-05-06", 69],
            ["2006-05-15", 70], ["2006-05-27", 73], ["2006-06-05", 76], ["2006-06-11", 77], ["2006-06-17", 68], ["2006-06-23", 71],
            ["2006-07-02", 59], ["2006-07-14", 60], ["2006-07-28", 46], ["2006-07-31", 56], ["2006-08-09", 58], ["2006-08-24", 52],
            ["2006-09-08", 61], ["2006-09-20", 52], ["2006-10-02", 53], ["2006-10-13", 54], ["2006-10-25", 57], ["2006-10-31", 50],
            ["2006-11-12", 44], ["2006-11-21", 46], ["2006-12-06", 48], ["2006-12-20", 47],
            ["2007-01-09", 47], ["2007-01-25", 52], ["2007-02-09", 47], ["2007-02-24", 47], ["2007-03-05", 49], ["2007-03-11", 51],
            ["2007-03-22", 43], ["2007-03-28", 49], ["2007-04-18", 49], ["2007-04-24", 45], ["2007-05-03", 47], ["2007-05-15", 49],
            ["2007-05-27", 50], ["2007-06-07", 51], ["2007-06-25", 59], ["2007-07-01", 50], ["2007-07-13", 50], ["2007-07-25", 52],
            ["2007-07-29", 53]
        ]

        // ---------- 30-minute mean amplitude (μm/s): [date, lower, upper] of the trace ----------
        var ampBand = [
            ["2003-01-01", 0.15, 0.6], ["2003-01-15", 0.15, 0.65], ["2003-02-01", 0.15, 0.55], ["2003-02-15", 0.12, 0.55],
            ["2003-03-01", 0.15, 0.6], ["2003-03-15", 0.2, 0.65], ["2003-04-01", 0.2, 0.7], ["2003-04-15", 0.2, 0.6],
            ["2003-05-01", 0.2, 0.6], ["2003-05-15", 0.22, 0.55], ["2003-06-01", 0.25, 0.55], ["2003-06-15", 0.3, 0.6],
            ["2003-07-01", 0.45, 0.8], ["2003-07-10", 0.5, 0.9], ["2003-07-20", 0.7, 1.3], ["2003-07-28", 0.75, 1.6],
            ["2003-08-05", 0.65, 1.2], ["2003-08-15", 0.55, 1.0], ["2003-09-01", 0.5, 0.95], ["2003-09-15", 0.45, 0.85],
            ["2003-10-01", 0.4, 0.8], ["2003-10-15", 0.35, 0.75], ["2003-11-01", 0.35, 0.7], ["2003-11-15", 0.35, 0.7],
            ["2003-12-01", 0.35, 0.7], ["2003-12-15", 0.35, 0.75], ["2004-01-01", 0.35, 0.7], ["2004-01-15", 0.35, 0.75],
            ["2004-02-01", 0.4, 0.75], ["2004-02-12", 0.42, 0.8], ["2004-02-22", 0.7, 1.2], ["2004-03-05", 0.9, 1.35],
            ["2004-03-15", 1.0, 1.5], ["2004-04-01", 1.1, 1.65], ["2004-04-15", 1.1, 1.6], ["2004-05-01", 1.2, 1.75],
            ["2004-05-15", 1.35, 1.9], ["2004-06-01", 1.4, 1.85], ["2004-06-15", 1.35, 1.85], ["2004-07-01", 1.35, 1.9],
            ["2004-07-15", 1.2, 1.6], ["2004-07-25", 1.3, 1.75], ["2004-08-05", 1.4, 1.9], ["2004-08-20", 1.45, 2.1],
            ["2004-09-01", 1.5, 2.2], ["2004-09-15", 1.5, 2.1], ["2004-09-28", 1.4, 2.0], ["2004-10-03", 1.0, 1.4],
            ["2004-10-15", 0.9, 1.35], ["2004-11-01", 0.85, 1.3], ["2004-11-15", 0.75, 1.2], ["2004-12-01", 0.65, 1.05],
            ["2004-12-15", 0.55, 0.95], ["2005-01-01", 0.5, 0.9], ["2005-01-15", 0.5, 0.85], ["2005-02-01", 0.5, 0.9],
            ["2005-02-15", 0.5, 0.85], ["2005-03-01", 0.5, 0.9], ["2005-03-15", 0.55, 0.95], ["2005-04-01", 0.65, 1.05],
            ["2005-04-10", 0.8, 1.3], ["2005-04-18", 1.5, 2.5], ["2005-04-25", 2.2, 3.3], ["2005-05-01", 2.4, 3.6],
            ["2005-05-08", 2.0, 3.2], ["2005-05-15", 1.6, 2.6], ["2005-05-25", 1.3, 2.0], ["2005-06-05", 1.1, 1.6],
            ["2005-06-15", 1.0, 1.45], ["2005-06-25", 0.9, 1.35], ["2005-07-05", 1.2, 2.1], ["2005-07-12", 1.3, 1.9],
            ["2005-07-20", 1.1, 1.6], ["2005-08-01", 0.9, 1.3], ["2005-08-15", 0.7, 1.15], ["2005-09-01", 0.55, 1.0],
            ["2005-09-15", 0.5, 0.9], ["2005-09-25", 0.6, 1.05], ["2005-10-05", 1.0, 1.7], ["2005-10-15", 1.3, 2.0],
            ["2005-10-25", 1.3, 1.9], ["2005-11-05", 1.3, 1.85], ["2005-11-15", 1.05, 1.5], ["2005-12-01", 0.9, 1.35],
            ["2005-12-15", 0.75, 1.15], ["2006-01-01", 0.7, 1.05], ["2006-01-15", 0.65, 1.0], ["2006-02-01", 0.6, 1.0],
            ["2006-02-15", 0.6, 1.1], ["2006-03-01", 0.65, 1.1], ["2006-03-15", 0.6, 1.0], ["2006-04-01", 0.65, 1.05],
            ["2006-04-15", 0.65, 1.1], ["2006-05-01", 0.7, 1.1], ["2006-05-15", 0.75, 1.15], ["2006-06-01", 0.8, 1.25],
            ["2006-06-10", 0.9, 1.45], ["2006-06-20", 0.6, 1.0], ["2006-07-01", 0.3, 0.7], ["2006-07-15", 0.25, 0.6],
            ["2006-08-01", 0.25, 0.55], ["2006-08-15", 0.2, 0.5], ["2006-09-01", 0.18, 0.45], ["2006-09-15", 0.18, 0.45],
            ["2006-10-01", 0.15, 0.4], ["2006-10-15", 0.15, 0.4], ["2006-11-01", 0.15, 0.4], ["2006-11-15", 0.15, 0.38],
            ["2006-12-01", 0.15, 0.42], ["2006-12-15", 0.15, 0.45], ["2007-01-01", 0.15, 0.42], ["2007-01-15", 0.15, 0.45],
            ["2007-02-01", 0.15, 0.4], ["2007-02-15", 0.12, 0.38], ["2007-03-01", 0.12, 0.38], ["2007-03-15", 0.12, 0.4],
            ["2007-04-01", 0.15, 0.4], ["2007-04-15", 0.15, 0.45], ["2007-05-01", 0.18, 0.5], ["2007-05-15", 0.18, 0.5],
            ["2007-06-01", 0.2, 0.55], ["2007-06-15", 0.2, 0.55], ["2007-07-01", 0.2, 0.6], ["2007-07-15", 0.18, 0.55],
            ["2007-08-01", 0.18, 0.5]
        ]
        // single 30-minute values that stand out of the trace (up or down)
        var ampSpikes = [
            ["2003-01-28", 1.1], ["2003-03-05", 3.1], ["2003-04-04", 4.3], ["2003-04-10", 5.0], ["2003-05-24", 3.95], ["2003-05-29", 1.3],
            ["2003-07-18", 2.65], ["2003-07-22", 2.0], ["2003-07-26", 2.45], ["2003-08-05", 2.85], ["2003-08-11", 1.85], ["2003-08-26", 1.5],
            ["2003-09-08", 1.3], ["2003-09-25", 2.55], ["2003-10-15", 2.1], ["2003-11-13", 3.0], ["2004-01-03", 1.7], ["2004-01-11", 1.55],
            ["2004-01-14", 5.0], ["2004-02-07", 1.55], ["2004-04-28", 2.1], ["2004-05-13", 2.2], ["2004-07-23", 2.85], ["2004-07-24", 5.0],
            ["2004-07-27", 5.0], ["2004-08-14", 3.6], ["2004-09-08", 4.0], ["2004-09-24", 2.6], ["2004-10-11", 2.25], ["2004-10-22", 4.3],
            ["2004-11-03", 2.65], ["2004-11-26", 2.3], ["2004-12-07", 5.0], ["2004-12-13", 5.0], ["2004-12-19", 2.6], ["2004-12-27", 4.35],
            ["2005-01-03", 5.0], ["2005-03-03", 3.6], ["2005-03-20", 5.0], ["2005-04-06", 3.4], ["2005-05-14", 4.0], ["2005-05-24", 3.1],
            ["2005-06-03", 2.7], ["2005-07-05", 2.4], ["2005-08-03", 3.6], ["2005-10-20", 4.5], ["2005-11-28", 2.2], ["2006-09-01", 3.0],
            ["2006-09-19", 1.55], ["2006-10-03", 4.4], ["2006-11-21", 3.55], ["2006-12-10", 5.0], ["2006-12-12", 1.25], ["2006-12-20", 1.3],
            ["2006-12-28", 1.4], ["2007-01-14", 5.0], ["2007-01-21", 1.1], ["2007-04-19", 1.0], ["2007-05-06", 5.0], ["2007-06-03", 2.4],
            ["2003-07-25", 0.05], ["2003-08-01", 0.05], ["2003-09-25", 0.1], ["2004-02-20", 0.05], ["2004-04-10", 0.1], ["2004-07-20", 0.05],
            ["2004-08-10", 0.1], ["2004-09-10", 0.05], ["2004-12-10", 0.15], ["2005-02-05", 0.2], ["2005-03-05", 0.05], ["2005-04-05", 0.1],
            ["2005-07-10", 0.25], ["2005-08-15", 0.05], ["2005-09-01", 0.05], ["2005-10-10", 0.1], ["2005-10-30", 0.15], ["2006-03-20", 0.05],
            ["2006-08-28", 0.05]
        ]
        // short excursions that make the trace ragged
        var ampNoise = [
            ["2003-01-10", 0.8], ["2003-02-05", 0.75], ["2003-02-20", 0.7], ["2003-03-20", 0.85], ["2003-04-20", 0.8], ["2003-05-10", 0.75],
            ["2003-06-10", 0.7], ["2003-06-25", 0.9], ["2003-07-05", 1.1], ["2003-07-15", 1.6], ["2003-07-30", 1.9], ["2003-08-20", 1.3],
            ["2003-09-03", 1.2], ["2003-09-18", 1.1], ["2003-10-05", 1.0], ["2003-10-25", 1.1], ["2003-11-05", 0.9], ["2003-11-25", 0.95],
            ["2003-12-10", 0.9], ["2004-01-20", 0.95], ["2004-03-01", 1.6], ["2004-03-20", 1.8], ["2004-04-05", 1.9], ["2004-04-20", 1.85],
            ["2004-05-05", 2.05], ["2004-05-25", 2.1], ["2004-06-10", 2.05], ["2004-06-25", 2.15], ["2004-07-05", 2.0], ["2004-08-01", 2.1],
            ["2004-08-25", 2.4], ["2004-09-05", 2.3], ["2004-09-18", 2.45], ["2004-10-20", 1.6], ["2004-11-10", 1.5], ["2004-12-01", 1.4],
            ["2004-12-22", 1.2], ["2005-01-10", 1.1], ["2005-01-25", 1.05], ["2005-02-10", 1.1], ["2005-02-25", 1.0], ["2005-03-10", 1.1],
            ["2005-03-25", 1.2], ["2005-04-20", 2.8], ["2005-04-28", 3.5], ["2005-05-05", 3.4], ["2005-05-20", 2.4], ["2005-06-10", 1.8],
            ["2005-06-20", 1.6], ["2005-07-01", 1.9], ["2005-07-08", 2.3], ["2005-07-25", 1.6], ["2005-08-10", 1.4], ["2005-08-25", 1.2],
            ["2005-09-10", 1.1], ["2005-10-01", 1.5], ["2005-10-12", 2.2], ["2005-10-25", 2.1], ["2005-11-10", 1.9], ["2005-11-20", 1.6],
            ["2005-12-08", 1.5], ["2005-12-25", 1.3], ["2006-01-10", 1.25], ["2006-01-25", 1.2], ["2006-02-10", 1.25], ["2006-02-25", 1.3],
            ["2006-03-10", 1.25], ["2006-03-25", 1.2], ["2006-04-10", 1.3], ["2006-04-25", 1.25], ["2006-05-10", 1.3], ["2006-05-25", 1.4],
            ["2006-06-05", 1.6], ["2006-06-15", 1.55], ["2006-07-05", 0.9], ["2006-07-20", 0.8], ["2006-08-05", 0.7], ["2006-08-20", 0.65],
            ["2006-09-10", 0.6], ["2006-09-25", 0.55], ["2006-10-10", 0.55], ["2006-10-25", 0.5], ["2006-11-10", 0.55], ["2006-11-25", 0.5],
            ["2006-12-05", 0.6], ["2007-01-05", 0.55], ["2007-01-30", 0.6], ["2007-02-20", 0.5], ["2007-03-10", 0.5], ["2007-03-25", 0.55],
            ["2007-04-10", 0.55], ["2007-04-25", 0.6], ["2007-05-10", 0.65], ["2007-05-25", 0.7], ["2007-06-10", 0.75], ["2007-06-20", 0.7],
            ["2007-07-05", 0.75], ["2007-07-20", 0.7]
        ]
        var eruptions = ["2003-07-08", "2004-01-14", "2005-04-14"]
        var tremors = [
            "2003-07-26", "2003-08-02", "2003-08-09", "2003-08-16",
            "2003-12-22", "2004-02-07",
            "2004-03-05", "2004-03-16", "2004-03-19", "2004-03-22", "2004-03-25", "2004-03-28", "2004-04-01", "2004-04-06",
            "2004-04-12", "2004-04-20", "2004-05-02", "2004-05-10",
            "2004-10-01", "2004-10-04", "2004-10-07", "2004-10-10", "2004-10-13", "2004-10-19", "2004-10-25", "2004-11-03",
            "2004-11-06", "2004-11-09", "2004-11-12", "2004-11-15", "2004-11-17", "2004-11-23", "2004-11-29", "2004-12-10",
            "2004-12-27", "2005-01-11", "2005-01-20", "2005-02-03",
            "2005-06-06", "2005-06-09", "2005-06-13", "2005-07-05", "2005-07-22",
            "2005-10-07", "2005-11-08", "2005-11-11", "2005-11-23", "2005-12-04", "2005-12-19",
            "2006-10-03"
        ]
        var continuousTremor = [["2004-05-24", "2004-09-29"], ["2005-04-25", "2005-05-30"], ["2005-10-15", "2005-11-05"]]

        // =====================================================================
        var svg = d3.select("#chart")
        var parseDate = d3.timeParse("%Y-%m-%d")
        var blue = "#1c1ce3"
        var monthFmt = d3.timeFormat("%Y/%m")

        function fromYear(y) {
            var yr = Math.floor(y), a = new Date(yr, 0, 1), b = new Date(yr + 1, 0, 1)
            return new Date(+a + (y - yr) * (b - a))
        }
        function diamond(w, h) {
            return "M0," + (-h / 2) + "L" + (w / 2) + ",0L0," + (h / 2) + "L" + (-w / 2) + ",0Z"
        }
        function triangle(w, h) {
            return "M0," + (-h / 2) + "L" + (w / 2) + "," + (h / 2) + "L" + (-w / 2) + "," + (h / 2) + "Z"
        }
        function tidy(g, size) {
            g.attr("font-family", null).attr("font-size", null)
            g.select(".domain").remove()
            g.selectAll(".tick line").attr("stroke", "#000")
            g.selectAll(".tick text").attr("font-size", size || 19).attr("fill", "#222")
            return g
        }
        function label(x, y, str, size, opts) {
            opts = opts || {}
            var t = svg.append("text").attr("x", x).attr("y", y).text(str)
                .attr("font-size", size).attr("fill", opts.fill || "#111")
            if (opts.jp) t.attr("class", "jp")
            if (opts.len) t.attr("textLength", opts.len).attr("lengthAdjust", "spacingAndGlyphs")
            if (opts.anchor) t.attr("text-anchor", opts.anchor)
            if (opts.weight) t.attr("font-weight", opts.weight)
            return t
        }
        function hline(g, x1, x2, y, w, c) {
            g.append("line").attr("x1", x1).attr("x2", x2).attr("y1", y).attr("y2", y)
                .attr("stroke", c || "#000").attr("stroke-width", w)
        }
        function vline(g, x, y1, y2, w, c) {
            g.append("line").attr("x1", x).attr("x2", x).attr("y1", y1).attr("y2", y2)
                .attr("stroke", c || "#000").attr("stroke-width", w)
        }

        var levelAll = levelPoints.map(function (d) { return { date: parseDate(d[0]), v: d[1] } })
        var levelOld = levelPoints1989.map(function (d) { return { date: fromYear(d[0]), v: d[1] } })
        var rainNew = rain.map(function (d) { return { date: parseDate(d[0]), mm: d[1] } })
        var rainAll = rain1989.map(function (d) { return { date: fromYear(d[0]), mm: d[1] } }).concat(rainNew)
        var sandNew = sandEjections.map(parseDate)
        var sandAll = sand1989.map(fromYear).concat(sandNew)
        var tempNew = temp.map(function (d) { return { date: parseDate(d[0]), v: d[1] } })
        var tempAll = [], tempLinks = []
        temp1989.forEach(function (d) {
            var vals = d[1].slice().sort(d3.ascending), date = fromYear(d[0])
            vals.forEach(function (v, i) {
                tempAll.push({ date: date, v: v })
                // readings of the same day-cluster lying close together merge into one blot
                if (i > 0 && v - vals[i - 1] <= 10) tempLinks.push({ date: date, a: vals[i - 1], b: v })
            })
        })
        tempAll = tempAll.concat(tempNew)

        // ---------------------------------------------------------------
        // Panel 1: water level + daily rainfall, 1989-2007
        // ---------------------------------------------------------------
        var p1 = { left: 74, right: 1270, top: 47, bottom: 238 }
        var x1 = d3.scaleTime().domain([new Date(1989, 0, 1), new Date(2007, 6, 17)]).range([p1.left, p1.right])
        var y1 = d3.scaleLinear().domain([0, 12]).range([p1.bottom, p1.top])
        var r1 = d3.scaleLinear().domain([0, 300]).range([p1.bottom, p1.top])
        var g1 = svg.append("g")

        g1.selectAll("line.grid").data(levelTicks.filter(function (d) { return d > 0 })).join("line")
            .attr("class", "grid").attr("x1", p1.left).attr("x2", p1.right)
            .attr("y1", function (d) { return y1(d) }).attr("y2", function (d) { return y1(d) })
            .attr("stroke", "#a0a0a0").attr("stroke-width", 1)

        g1.selectAll("line.rain").data(rainAll).join("line").attr("class", "rain")
            .attr("x1", function (d) { return Math.round(x1(d.date)) + 0.5 })
            .attr("x2", function (d) { return Math.round(x1(d.date)) + 0.5 })
            .attr("y1", r1(0)).attr("y2", function (d) { return r1(d.mm) })
            .attr("stroke", function (d) { return d.mm > 140 ? "#444" : "#111" }).attr("stroke-width", 1.3).attr("opacity", 0.85)

        g1.selectAll("line.run").data(levelRuns1989).join("line").attr("class", "run")
            .attr("x1", function (d) { return x1(fromYear(d[0])) }).attr("x2", function (d) { return x1(fromYear(d[1])) })
            .attr("y1", function (d) { return y1(d[2]) }).attr("y2", function (d) { return y1(d[2]) })
            .attr("stroke", blue).attr("stroke-width", 11).attr("stroke-linecap", "round")

        g1.selectAll("path.lv").data(levelOld.concat(levelAll)).join("path").attr("class", "lv")
            .attr("d", diamond(11, 11)).attr("fill", blue)
            .attr("transform", function (d) { return "translate(" + x1(d.date) + "," + y1(d.v) + ")" })

        g1.selectAll("path.sand").data(sandAll).join("path").attr("class", "sand")
            .attr("d", triangle(9, 8)).attr("fill", "#000")
            .attr("transform", function (d) { return "translate(" + x1(d) + "," + y1(11.1) + ")" })

        tidy(g1.append("g").attr("transform", "translate(" + p1.left + ",0)")
            .call(d3.axisLeft(y1).tickValues(d3.range(0, 13)).tickSize(3).tickFormat("")))
        tidy(g1.append("g").attr("transform", "translate(" + p1.left + ",0)")
            .call(d3.axisLeft(y1).tickValues(levelTicks).tickSize(6).tickPadding(12)))
        tidy(g1.append("g").attr("transform", "translate(" + p1.right + ",0)")
            .call(d3.axisRight(r1).tickValues([50, 150, 250]).tickSize(3).tickFormat("")))
        var ar1 = tidy(g1.append("g").attr("transform", "translate(" + p1.right + ",0)")
            .call(d3.axisRight(r1).tickValues(rainTicks).tickSize(6)), 18)
        ar1.selectAll("text").attr("text-anchor", "end").attr("x", 1319 - p1.right).attr("dy", "0.45em")
        tidy(g1.append("g").attr("transform", "translate(0," + p1.bottom + ")")
            .call(d3.axisBottom(x1).ticks(d3.timeYear.every(1)).tickSize(7).tickFormat("")))

        hline(g1, p1.left, p1.right, p1.top, 3)
        hline(g1, p1.left, p1.right, p1.bottom, 1.5)
        vline(g1, p1.left, p1.top, p1.bottom, 1.5)
        vline(g1, p1.right, p1.top, p1.bottom, 1.5)

        function yearCentre(x, y) {
            var dom = x.domain()
            var a = Math.max(new Date(y, 0, 1), dom[0]), b = Math.min(new Date(y + 1, 0, 1), dom[1])
            return (x(a) + x(b)) / 2
        }
        g1.selectAll("text.yr").data(yearLabels).join("text").attr("class", "yr")
            .attr("x", function (d) { return yearCentre(x1, +d) }).attr("y", 271)
            .attr("text-anchor", "middle").attr("font-size", 19).attr("fill", "#222").text(function (d) { return d })

        label(127, 32, "中岳第一火口湯だまりの量及び阿蘇山測候所における日降水量", 26, { jp: true, len: 781 })
        label(41, 34, "割", 14, { jp: true, fill: "#333", weight: 700 })
        label(1087, 26, "[▲：土砂噴出]", 19, { jp: true, len: 145, fill: "#222" })
        label(1279, 33, "mm", 13, { fill: "#333" })

        // ---------------------------------------------------------------
        // Panel 2: surface temperature 1989-2007
        // ---------------------------------------------------------------
        var p2 = { left: 81, right: 1265, top: 348, bottom: 538 }
        var x2 = d3.scaleTime().domain([new Date(1989, 0, 1), new Date(2007, 7, 10)]).range([p2.left, p2.right])
        var y2 = d3.scaleLinear().domain([0, 100]).range([p2.bottom, p2.top])
        var g2 = svg.append("g")

        g2.selectAll("line.grid").data(d3.range(10, 100, 10)).join("line").attr("class", "grid")
            .attr("x1", p2.left).attr("x2", p2.right)
            .attr("y1", function (d) { return y2(d) }).attr("y2", function (d) { return y2(d) })
            .attr("stroke", "#a8a8a8").attr("stroke-width", 1.2)

        g2.selectAll("rect.tl").data(tempLinks).join("rect").attr("class", "tl")
            .attr("x", function (d) { return x2(d.date) - 3.5 }).attr("width", 7)
            .attr("y", function (d) { return y2(d.b) }).attr("height", function (d) { return y2(d.a) - y2(d.b) })
            .attr("fill", "#000")
        g2.selectAll("path.t").data(tempAll).join("path").attr("class", "t")
            .attr("d", diamond(10, 11)).attr("fill", "#000")
            .attr("transform", function (d) { return "translate(" + x2(d.date) + "," + y2(d.v) + ")" })

        function timeTicks(g, x, p, yearMajor) {
            var major = yearMajor ? d3.timeYear.every(1) : d3.timeMonth.every(6)
            var minor = yearMajor ? d3.timeMonth.every(3) : d3.timeMonth.every(1)
            tidy(g.append("g").attr("transform", "translate(0," + p.bottom + ")").call(d3.axisBottom(x).ticks(minor).tickSize(4).tickFormat("")))
            tidy(g.append("g").attr("transform", "translate(0," + p.bottom + ")").call(d3.axisBottom(x).ticks(major).tickSize(8).tickFormat("")))
            tidy(g.append("g").attr("transform", "translate(0," + p.top + ")").call(d3.axisTop(x).ticks(minor).tickSize(4).tickFormat("")))
            tidy(g.append("g").attr("transform", "translate(0," + p.top + ")").call(d3.axisTop(x).ticks(major).tickSize(8).tickFormat("")))
        }
        timeTicks(g2, x2, p2, true)
        tidy(g2.append("g").attr("transform", "translate(" + p2.left + ",0)")
            .call(d3.axisLeft(y2).tickValues(d3.range(0, 101, 10)).tickSize(4).tickFormat("")))
        tidy(g2.append("g").attr("transform", "translate(" + p2.left + ",0)")
            .call(d3.axisLeft(y2).tickValues(tempTicks).tickSize(7).tickPadding(8)))
        tidy(g2.append("g").attr("transform", "translate(" + p2.right + ",0)")
            .call(d3.axisRight(y2).tickValues(d3.range(0, 101, 10)).tickSize(5).tickFormat("")))
        g2.append("rect").attr("x", p2.left).attr("y", p2.top).attr("width", p2.right - p2.left).attr("height", p2.bottom - p2.top)
            .attr("fill", "none").attr("stroke", "#000").attr("stroke-width", 3)

        g2.selectAll("text.yr").data(yearLabels).join("text").attr("class", "yr")
            .attr("x", function (d) { return yearCentre(x2, +d) }).attr("y", 572)
            .attr("text-anchor", "middle").attr("font-size", 19).attr("fill", "#222").text(function (d) { return d })

        label(133, 325, "中岳第一火口湯だまりの表面温度", 26, { jp: true, len: 415 })
        label(48, 334, "℃", 14, { jp: true, fill: "#333" })

        // zoom connector (2003/01 - 2007/07 of panel 2 expanded below)
        var zx0 = x2(new Date(2003, 0, 1)), zx1 = x2.range()[1]
        svg.append("path").attr("d", "M" + (zx0 + 7) + ",583L" + (zx0 - 46) + ",652L178,652L" + (p1.left + 18) + ",716")
            .attr("fill", "none").attr("stroke", "#000").attr("stroke-width", 2.2).attr("stroke-dasharray", "2,2")
        svg.append("line").attr("x1", zx1 + 1).attr("x2", zx1 + 1).attr("y1", 582).attr("y2", 690)
            .attr("stroke", "#000").attr("stroke-width", 2.2).attr("stroke-dasharray", "2,2")

        // ---------------------------------------------------------------
        // Panel 3: water level + rainfall, 2003/01-2007/07
        // ---------------------------------------------------------------
        var p3 = { left: 75, right: 1268, top: 731, bottom: 922 }
        var x3 = d3.scaleTime().domain([new Date(2003, 0, 1), new Date(2007, 7, 1)]).range([p3.left, p3.right])
        var y3 = d3.scaleLinear().domain([0, 12]).range([p3.bottom, p3.top])
        var r3 = d3.scaleLinear().domain([0, 300]).range([p3.bottom, p3.top])
        var g3 = svg.append("g")

        g3.selectAll("line.grid").data(levelTicks.filter(function (d) { return d > 0 })).join("line").attr("class", "grid")
            .attr("x1", p3.left).attr("x2", p3.right)
            .attr("y1", function (d) { return y3(d) }).attr("y2", function (d) { return y3(d) })
            .attr("stroke", "#a0a0a0").attr("stroke-width", 1)

        g3.selectAll("line.rain").data(rainNew).join("line").attr("class", "rain")
            .attr("x1", function (d) { return Math.round(x3(d.date)) + 0.5 })
            .attr("x2", function (d) { return Math.round(x3(d.date)) + 0.5 })
            .attr("y1", r3(0)).attr("y2", function (d) { return r3(d.mm) })
            .attr("stroke", function (d) { return d.mm > 140 ? "#555" : "#111" }).attr("stroke-width", 1)

        g3.selectAll("path.lv").data(levelAll).join("path").attr("class", "lv")
            .attr("d", diamond(10, 10)).attr("fill", blue)
            .attr("transform", function (d) { return "translate(" + x3(d.date) + "," + y3(d.v) + ")" })

        g3.selectAll("path.sand").data(sandNew).join("path").attr("class", "sand")
            .attr("d", triangle(10, 9)).attr("fill", "#000")
            .attr("transform", function (d) { return "translate(" + x3(d) + "," + y3(11.1) + ")" })

        tidy(g3.append("g").attr("transform", "translate(" + p3.left + ",0)")
            .call(d3.axisLeft(y3).tickValues(d3.range(0, 13)).tickSize(3).tickFormat("")))
        tidy(g3.append("g").attr("transform", "translate(" + p3.left + ",0)")
            .call(d3.axisLeft(y3).tickValues(levelTicks).tickSize(6).tickPadding(9)))
        tidy(g3.append("g").attr("transform", "translate(" + p3.right + ",0)")
            .call(d3.axisRight(r3).tickValues([50, 150, 250]).tickSize(3).tickFormat("")))
        var ar3 = tidy(g3.append("g").attr("transform", "translate(" + p3.right + ",0)")
            .call(d3.axisRight(r3).tickValues(rainTicks).tickSize(6)), 18)
        ar3.selectAll("text").attr("text-anchor", "end").attr("x", 1317 - p3.right).attr("dy", "0.45em")
        tidy(g3.append("g").attr("transform", "translate(0," + p3.bottom + ")")
            .call(d3.axisBottom(x3).ticks(d3.timeMonth.every(1)).tickSize(4).tickFormat("")))
        tidy(g3.append("g").attr("transform", "translate(0," + p3.bottom + ")")
            .call(d3.axisBottom(x3).ticks(d3.timeMonth.every(6)).tickSize(7).tickFormat("")))

        hline(g3, p3.left, p3.right, p3.top, 3)
        hline(g3, p3.left, p3.right, p3.bottom, 1.5)
        vline(g3, p3.left, p3.top, p3.bottom, 2)
        vline(g3, p3.right, p3.top, p3.bottom, 1.5)

        function monthLabels(g, x, y) {
            g.selectAll("text.mo").data(x.ticks(d3.timeMonth.every(6))).join("text").attr("class", "mo")
                .attr("x", function (d) { return x(d) + 10 }).attr("y", y)
                .attr("text-anchor", "middle").attr("font-size", 19).attr("fill", "#222").text(monthFmt)
        }
        monthLabels(g3, x3, 957)

        label(150, 717, "中岳第一火口湯だまりの量及び阿蘇山測候所における日降水量", 26, { jp: true, len: 780 })
        label(41, 717, "割", 14, { jp: true, fill: "#333", weight: 700 })
        label(1083, 711, "[▲：土砂噴出]", 19, { jp: true, len: 143, fill: "#222" })
        label(1277, 716, "mm", 13, { fill: "#333" })

        // ---------------------------------------------------------------
        // Panel 4: surface temperature 2003/01-2007/07
        // ---------------------------------------------------------------
        var p4 = { left: 71, right: 1284, top: 1043, bottom: 1238 }
        var x4 = d3.scaleTime().domain([new Date(2003, 0, 1), new Date(2007, 7, 1)]).range([p4.left, p4.right])
        var y4 = d3.scaleLinear().domain([0, 100]).range([p4.bottom, p4.top])
        var g4 = svg.append("g")

        g4.selectAll("line.grid").data(d3.range(10, 100, 10)).join("line").attr("class", "grid")
            .attr("x1", p4.left).attr("x2", p4.right)
            .attr("y1", function (d) { return y4(d) }).attr("y2", function (d) { return y4(d) })
            .attr("stroke", "#a8a8a8").attr("stroke-width", 1.2)

        g4.selectAll("path.t").data(tempNew).join("path").attr("class", "t")
            .attr("d", diamond(11, 11)).attr("fill", "#000")
            .attr("transform", function (d) { return "translate(" + x4(d.date) + "," + y4(d.v) + ")" })

        timeTicks(g4, x4, p4, false)
        tidy(g4.append("g").attr("transform", "translate(" + p4.left + ",0)")
            .call(d3.axisLeft(y4).tickValues(d3.range(0, 101, 10)).tickSize(4).tickFormat("")))
        tidy(g4.append("g").attr("transform", "translate(" + p4.left + ",0)")
            .call(d3.axisLeft(y4).tickValues(tempTicks).tickSize(7).tickPadding(9)))
        tidy(g4.append("g").attr("transform", "translate(" + p4.right + ",0)")
            .call(d3.axisRight(y4).tickValues(d3.range(0, 101, 10)).tickSize(5).tickFormat("")))
        g4.append("rect").attr("x", p4.left).attr("y", p4.top).attr("width", p4.right - p4.left).attr("height", p4.bottom - p4.top)
            .attr("fill", "none").attr("stroke", "#000").attr("stroke-width", 3)
        monthLabels(g4, x4, 1274)

        label(150, 1016, "中岳第一火口湯だまりの表面温度", 26, { jp: true, len: 417 })
        label(38, 1027, "℃", 14, { jp: true, fill: "#333" })

        // ---------------------------------------------------------------
        // Panel 5: 30-minute mean amplitude
        // ---------------------------------------------------------------
        var p5 = { left: 66, right: 1290, top: 1358, bottom: 1501 }
        var x5 = d3.scaleTime().domain([new Date(2003, 0, 1), new Date(2007, 7, 1)]).range([p5.left, p5.right])
        var y5 = d3.scaleLinear().domain([0, 5]).range([p5.bottom, p5.top])
        var g5 = svg.append("g")

        g5.selectAll("line.grid").data(ampTicks.filter(function (d) { return d > 0 })).join("line").attr("class", "grid")
            .attr("x1", p5.left - 11).attr("x2", p5.right)
            .attr("y1", function (d) { return y5(d) }).attr("y2", function (d) { return y5(d) })
            .attr("stroke", "#333").attr("stroke-width", 1.2)

        var ampData = ampBand.map(function (d) { return { date: parseDate(d[0]), lo: d[1], hi: d[2] } })
        var bis = d3.bisector(function (d) { return d.date }).left
        function ampMid(date) {
            var i = bis(ampData, date)
            var a = ampData[Math.max(0, i - 1)], b = ampData[Math.min(ampData.length - 1, i)]
            var t = (b.date - a.date) ? (date - a.date) / (b.date - a.date) : 0
            return ((a.lo + a.hi) / 2) * (1 - t) + ((b.lo + b.hi) / 2) * t
        }
        g5.selectAll("line.sp").data(ampSpikes).join("line").attr("class", "sp")
            .attr("x1", function (d) { return Math.round(x5(parseDate(d[0]))) + 0.5 })
            .attr("x2", function (d) { return Math.round(x5(parseDate(d[0]))) + 0.5 })
            .attr("y1", function (d) { return y5(ampMid(parseDate(d[0]))) }).attr("y2", function (d) { return y5(d[1]) })
            .attr("stroke", function (d) { return d[1] >= 4.9 ? "#777" : "#333" }).attr("stroke-width", 1.2)

        g5.append("path").datum(ampData)
            .attr("d", d3.area().x(function (d) { return x5(d.date) })
                .y0(function (d) { return y5(d.lo) }).y1(function (d) { return y5(d.hi) }))
            .attr("fill", "#111").attr("stroke", "#111").attr("stroke-width", 1.5).attr("stroke-linejoin", "round")
        g5.selectAll("line.nz").data(ampNoise).join("line").attr("class", "nz")
            .attr("x1", function (d) { return Math.round(x5(parseDate(d[0]))) + 0.5 })
            .attr("x2", function (d) { return Math.round(x5(parseDate(d[0]))) + 0.5 })
            .attr("y1", function (d) { return y5(ampMid(parseDate(d[0]))) }).attr("y2", function (d) { return y5(d[1]) })
            .attr("stroke", "#111").attr("stroke-width", 2)

        var yMark = y5(4.5)
        g5.selectAll("line.ct").data(continuousTremor).join("line").attr("class", "ct")
            .attr("x1", function (d) { return x5(parseDate(d[0])) }).attr("x2", function (d) { return x5(parseDate(d[1])) })
            .attr("y1", yMark).attr("y2", yMark)
            .attr("stroke", "#000").attr("stroke-width", 1.5).attr("stroke-dasharray", "5,4")
        g5.selectAll("path.tr").data(tremors).join("path").attr("class", "tr")
            .attr("d", "M-7,0H7M0,-7V7").attr("stroke", "#000").attr("stroke-width", 1.6).attr("fill", "none")
            .attr("transform", function (d) { return "translate(" + Math.round(x5(parseDate(d))) + "," + yMark + ")" })
        g5.selectAll("path.er").data(eruptions).join("path").attr("class", "er")
            .attr("d", triangle(17, 16)).attr("fill", "#000")
            .attr("transform", function (d) { return "translate(" + x5(parseDate(d)) + "," + (yMark - 2) + ")" })

        hline(g5, p5.left - 11, p5.right, p5.top, 1.2, "#333")
        vline(g5, p5.left, p5.top, p5.bottom, 2)
        vline(g5, p5.right, p5.top, p5.bottom + 4, 1.5)
        hline(g5, p5.left - 11, p5.right, p5.bottom, 1.5, "#222")
        tidy(g5.append("g").attr("transform", "translate(0," + p5.bottom + ")")
            .call(d3.axisBottom(x5).ticks(d3.timeMonth.every(1)).tickSize(6).tickFormat("")))
        tidy(g5.append("g").attr("transform", "translate(0," + p5.bottom + ")")
            .call(d3.axisBottom(x5).ticks(d3.timeMonth.every(6)).tickSize(11).tickFormat("")))
        tidy(g5.append("g").attr("transform", "translate(" + p5.left + ",0)")
            .call(d3.axisLeft(y5).tickValues(ampTicks).tickFormat(d3.format("d")).tickSize(0).tickPadding(26)), 20)
        g5.selectAll(".tick text").attr("fill", "#111")
        monthLabels(g5, x5, 1546)

        label(157, 1320, "30 分間平均振幅(A 点南北成分)", 26, { jp: true, len: 389 })
        var mu = svg.append("text").attr("x", 8).attr("y", 1342).attr("font-size", 16).attr("fill", "#222")
        mu.append("tspan").attr("font-style", "italic").attr("font-size", 19).text("μ")
        mu.append("tspan").text(" m/s")
        var lg = svg.append("text").attr("class", "jp").attr("x", 873).attr("y", 1331).attr("font-size", 20).attr("fill", "#111")
            .attr("textLength", 412).attr("lengthAdjust", "spacingAndGlyphs")
        lg.append("tspan").text("[ ")
        lg.append("tspan").attr("font-size", 13).text("+")
        lg.append("tspan").text("：微動、")
        lg.append("tspan").attr("font-size", 13).text("+---+")
        lg.append("tspan").text("：連続微動、▲：噴火 ]")
    </script>
</body>

</html>
